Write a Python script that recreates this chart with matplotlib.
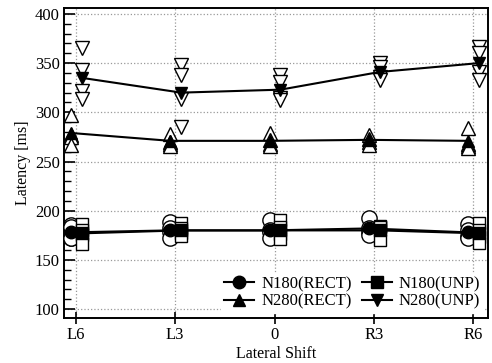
import numpy as np
import matplotlib
matplotlib.use("Agg")
import matplotlib.pyplot as plt

plt.rcParams['font.family'] = ['Liberation Serif', 'DejaVu Serif']

# lateral shift conditions
shifts = ["L6", "L3", "0", "R3", "R6"]

# group means (filled markers)
n180_rect_mean = [178, 180, 180, 182, 178]
n180_unp_mean = [177, 180, 180, 180, 177]
n280_rect_mean = [279, 271, 271, 272, 271]
n280_unp_mean = [335, 320, 323, 341, 350]

# individual subjects (open markers), one row per shift
n180_rect_subj = [[185, 183, 172, 172], [189, 182, 178, 172], [191, 180, 178, 172],
                  [193, 182, 178, 175], [186, 180, 174, 172]]
n180_unp_subj = [[186, 180, 175, 166], [188, 182, 177, 174], [191, 183, 176, 171],
                 [184, 183, 183, 170], [188, 180, 173, 167]]
n280_rect_subj = [[297, 277, 275, 267], [278, 270, 268, 266], [279, 272, 268, 266],
                  [277, 273, 270, 267], [284, 268, 266, 264]]
n280_unp_subj = [[365, 343, 322, 314], [348, 338, 314, 285], [338, 331, 315, 312],
                 [350, 346, 336, 333], [366, 360, 341, 333]]

fig = plt.figure(figsize=(4.92, 3.63), dpi=100)
ax = fig.add_axes([0.130, 0.124, 0.862, 0.854])

x = np.arange(len(shifts))
dx_rect = -0.05
dx_unp = 0.06

series = [
    ("N180(RECT)", n180_rect_mean, n180_rect_subj, 'o', dx_rect, 9, 11),
    ("N280(RECT)", n280_rect_mean, n280_rect_subj, '^', dx_rect, 9, 10),
    ("N180(UNP)", n180_unp_mean, n180_unp_subj, 's', dx_unp, 8, 9),
    ("N280(UNP)", n280_unp_mean, n280_unp_subj, 'v', dx_unp, 9, 10),
]

# open markers for each subject
for name, mean, subj, mk, dx, ms, ms_open in series:
    subj = np.array(subj)
    for k in range(subj.shape[1]):
        ax.plot(x + dx, subj[:, k], linestyle='none', marker=mk, markersize=ms_open,
                markerfacecolor='white', markeredgecolor='black', markeredgewidth=1.0,
                zorder=3)

handles = {}
for name, mean, subj, mk, dx, ms, ms_open in series:
    h, = ax.plot(x + dx, mean, color='black', linewidth=1.5, marker=mk, markersize=ms,
                 markerfacecolor='black', markeredgecolor='black', zorder=4, label=name)
    handles[name] = h

ax.set_xlim(-0.12, 4.15)
ax.set_ylim(91, 406)
ax.set_xticks(x)
ax.set_xticklabels(shifts)
ax.set_yticks(np.arange(100, 401, 50))
ax.set_yticks(np.arange(100, 401, 10), minor=True)

ax.grid(True, which='major', color='#999999', linestyle=':', linewidth=0.9)
ax.set_axisbelow(True)

ax.tick_params(axis='y', which='major', direction='in', length=8, width=1.2,
               labelsize=12, right=False, pad=3)
ax.tick_params(axis='y', which='minor', direction='in', length=5, width=1.0, right=False)
ax.tick_params(axis='x', which='major', direction='inout', length=9, width=1.2,
               labelsize=12, top=False, pad=2)
for s in ax.spines.values():
    s.set_linewidth(1.4)

ax.set_xlabel("Lateral Shift", fontsize=11.5, labelpad=2)
ax.set_ylabel("Latency [ms]", fontsize=11.5, labelpad=3)

order = ["N180(RECT)", "N280(RECT)", "N180(UNP)", "N280(UNP)"]
leg = ax.legend([handles[n] for n in order], order, loc='lower right', ncol=2,
                fontsize=12, frameon=True, framealpha=1, edgecolor='white',
                handlelength=1.8, handletextpad=0.4, columnspacing=0.6,
                borderpad=0.2, labelspacing=0.1, borderaxespad=0.3, fancybox=False)
leg.set_zorder(5)

fig.savefig("out.png", dpi=100)
